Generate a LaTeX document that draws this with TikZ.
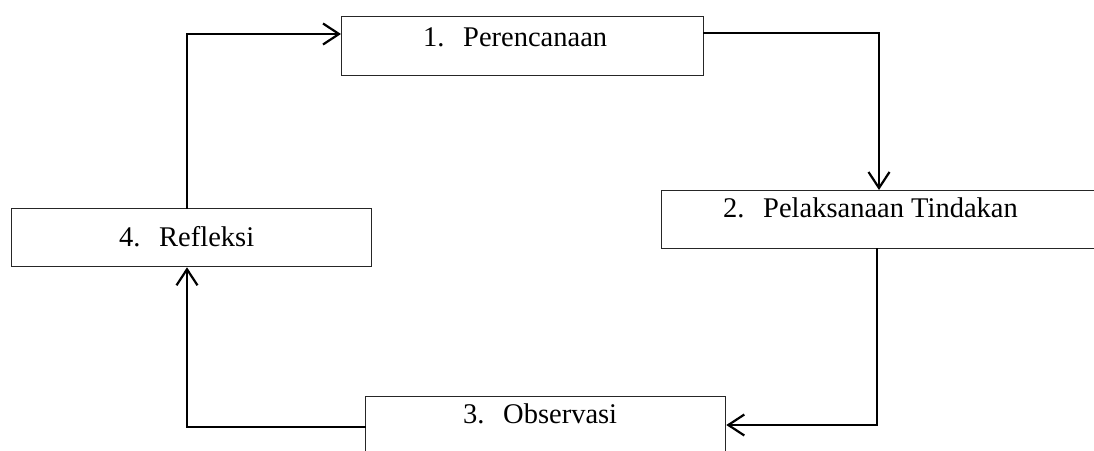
\documentclass[tikz,border=0pt]{standalone}
\usepackage{fontspec}
\setmainfont{Liberation Serif}
\usetikzlibrary{arrows.meta}
\tikzset{
  stagebox/.style={draw=black!85, line width=1.3pt, rectangle, inner sep=0pt, anchor=north west},
  stagetext/.style={anchor=base west, inner sep=0pt, font=\fontsize{28.5}{32}\selectfont},
  flow/.style={line width=2.4pt, line cap=rect, line join=miter, -{Straight Barb[length=16pt,width=21pt,line width=2.2pt]}}
}
\newcommand{\numlabel}[2]{\makebox[40pt][l]{#1}#2}
\begin{document}
\begin{tikzpicture}[x=1pt,y=-1pt]
\useasboundingbox (0,0) rectangle (1094,450);
\clip (0,0) rectangle (1094,450);
% boxes
\node[stagebox, minimum width=362pt, minimum height=59pt] (b1) at (341,16) {};
\node[stagebox, minimum width=460pt, minimum height=58pt] (b2) at (661,190) {};
\node[stagebox, minimum width=360pt, minimum height=80pt] (b3) at (365,396) {};
\node[stagebox, minimum width=360pt, minimum height=58pt] (b4) at (11,208) {};
% texts
\node[stagetext] (t1) at (423,46) {\numlabel{1.}{Perencanaan}};
\node[stagetext] (t2) at (723,217) {\numlabel{2.}{Pelaksanaan Tindakan}};
\node[stagetext] (t3) at (463,423) {\numlabel{3.}{Observasi}};
\node[stagetext] (t4) at (119,246) {\numlabel{4.}{Refleksi}};
% corner coordinates
\coordinate (c1) at (879,33);
\coordinate (c2) at (877,425);
\coordinate (c3) at (187,427);
\coordinate (c4) at (187,34);
% connectors
\draw[flow] (b1.east |- c1) -- (c1) -- (b2.north -| c1);
\draw[flow] (b2.south -| c2) -- (c2) -- (b3.east |- c2);
\draw[flow] (b3.west |- c3) -- (c3) -- (b4.south -| c3);
\draw[flow] (b4.north -| c4) -- (c4) -- (b1.west |- c4);
\end{tikzpicture}
\end{document}
